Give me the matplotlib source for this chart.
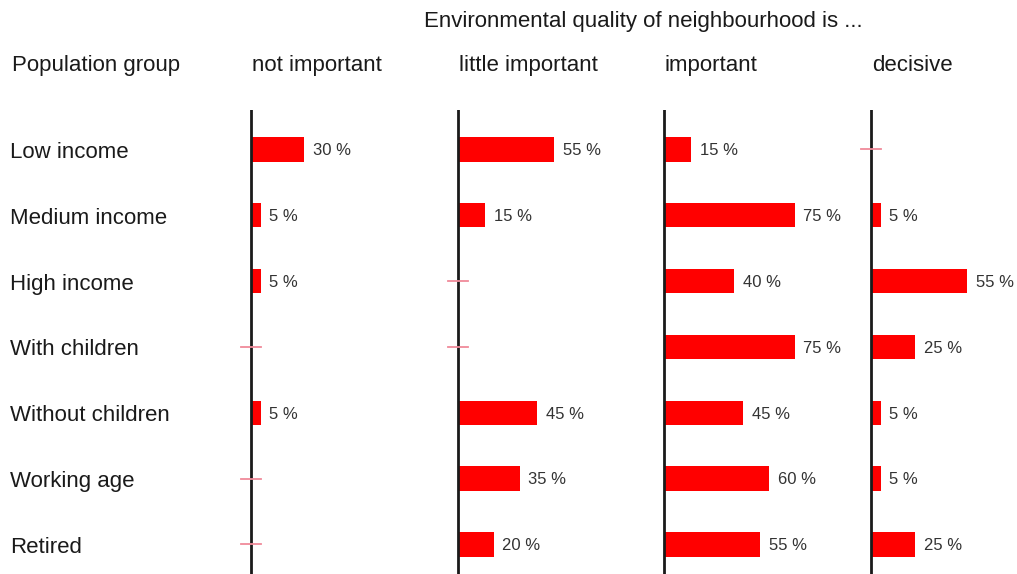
import matplotlib.pyplot as plt

plt.rcParams['font.family'] = ['Liberation Sans', 'DejaVu Sans']

groups = ['Low income', 'Medium income', 'High income', 'With children',
          'Without children', 'Working age', 'Retired']
levels = ['not important', 'little important', 'important', 'decisive']
not_important = [30, 5, 5, 0, 5, 0, 0]
little_important = [55, 15, 0, 0, 45, 35, 20]
important = [15, 75, 40, 75, 45, 60, 55]
decisive = [0, 5, 55, 25, 5, 5, 25]
values = [not_important, little_important, important, decisive]

W, H = 1017, 574
fig = plt.figure(figsize=(W / 100, H / 100), dpi=100)

# pixel x of each panel's vertical axis line
axis_px = [251, 458, 664, 871]
px_per_pct = 1.73
xmin, xmax = -10, 105
top_px = 110
ylo, yhi = 6.45, -0.6

for i, (x0, vals) in enumerate(zip(axis_px, values)):
    left = (x0 + xmin * px_per_pct) / W
    width = (xmax - xmin) * px_per_pct / W
    ax = fig.add_axes([left, 0, width, (H - top_px) / H])
    ax.set_xlim(xmin, xmax)
    ax.set_ylim(ylo, yhi)
    ax.axis('off')
    ax.axvline(0, color='#1a1a1a', lw=2, zorder=3)
    for j, v in enumerate(vals):
        if v == 0:
            # zero share: small dash across the axis
            ax.plot([-5.5, 5.5], [j, j], color='#f08a9a', lw=1.3, zorder=4)
        else:
            ax.barh(j, v, height=0.37, left=0.6, color='#ff0000', zorder=2)
            ax.annotate(f'{v} %', (v, j), xytext=(7, -1), textcoords='offset points',
                        va='center', ha='left', fontsize=12, color='#333333')
    fig.text((x0 + 1) / W, 1 - 66 / H, levels[i], fontsize=16, va='center',
             ha='left', color='#1a1a1a')

fig.text(12 / W, 1 - 66 / H, 'Population group', fontsize=16, va='center',
         color='#1a1a1a')
for j, g in enumerate(groups):
    y_px = top_px + (j - yhi) / (ylo - yhi) * (H - top_px) + 3
    fig.text(10 / W, 1 - y_px / H, g, fontsize=16, va='center', color='#1a1a1a')

fig.text(643 / W, 1 - 21 / H, 'Environmental quality of neighbourhood is ...',
         fontsize=16, va='center', ha='center', color='#1a1a1a')

fig.savefig('out.png', dpi=100)
